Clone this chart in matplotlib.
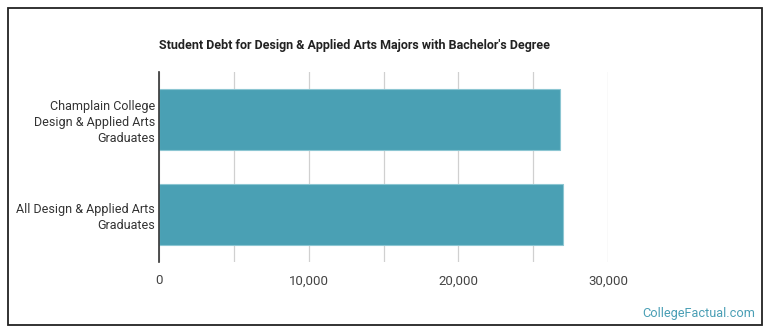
"""
Student debt for design & applied arts majors, horizontal bar chart
"""

import matplotlib as mpl
mpl.use("Agg")
import matplotlib.pyplot as plt
from matplotlib.patches import Rectangle
from matplotlib.ticker import FuncFormatter, MultipleLocator

plt.rcParams["font.family"] = ["Roboto", "DejaVu Sans"]

categories = [
    "Champlain College\nDesign & Applied Arts\nGraduates",
    "All Design & Applied Arts\nGraduates",
]
debt = [26800, 27000]
xticks = [0, 10000, 20000, 30000]

W, H = 770, 335
fig = plt.figure(figsize=(W / 100, H / 100), dpi=100)
ax = fig.add_axes([159 / W, (H - 262) / H, (608 - 159) / W, 190 / H])

ypos = list(range(len(categories)))
ax.barh(ypos, debt, height=0.64, color="#4aa0b4", edgecolor="#8cc6d2", linewidth=0.8, zorder=3)
ax.set_ylim(len(categories) - 0.5, -0.5)
ax.set_xlim(0, 30000)
ax.set_yticks(ypos)
ax.set_yticklabels(categories, fontsize=9, color="#333333", linespacing=1.3)
ax.set_xticks(xticks)
ax.xaxis.set_major_formatter(FuncFormatter(lambda v, p: f"{int(v):,}"))
ax.xaxis.set_minor_locator(MultipleLocator(5000))
ax.tick_params(axis="x", which="both", length=0, labelsize=9.5, labelcolor="#444444", pad=9)
ax.tick_params(axis="y", length=0, pad=3)
ax.grid(axis="x", which="both", color="#d0d0d0", linewidth=0.9, zorder=0)
for s in ["top", "right", "bottom"]:
    ax.spines[s].set_visible(False)
ax.spines["left"].set_color("#333333")
ax.spines["left"].set_linewidth(1.2)
ax.spines["left"].set_zorder(4)

fig.text(159 / W, 1 - 45 / H, "Student Debt for Design & Applied Arts Majors with Bachelor's Degree",
         fontsize=9, fontweight="bold", color="#222222", va="center", ha="left",
         family=["Liberation Sans Narrow", "Roboto", "DejaVu Sans"])
fig.text(755 / W, 1 - 313 / H, "CollegeFactual.com", fontsize=9.2, color="#4a9fb5",
         ha="right", va="center")

fig.patches.append(Rectangle((8 / W, 10 / H), 754 / W, 317 / H, transform=fig.transFigure,
                             fill=False, edgecolor="#222222", linewidth=1.3))

fig.savefig("out.png", dpi=100)
